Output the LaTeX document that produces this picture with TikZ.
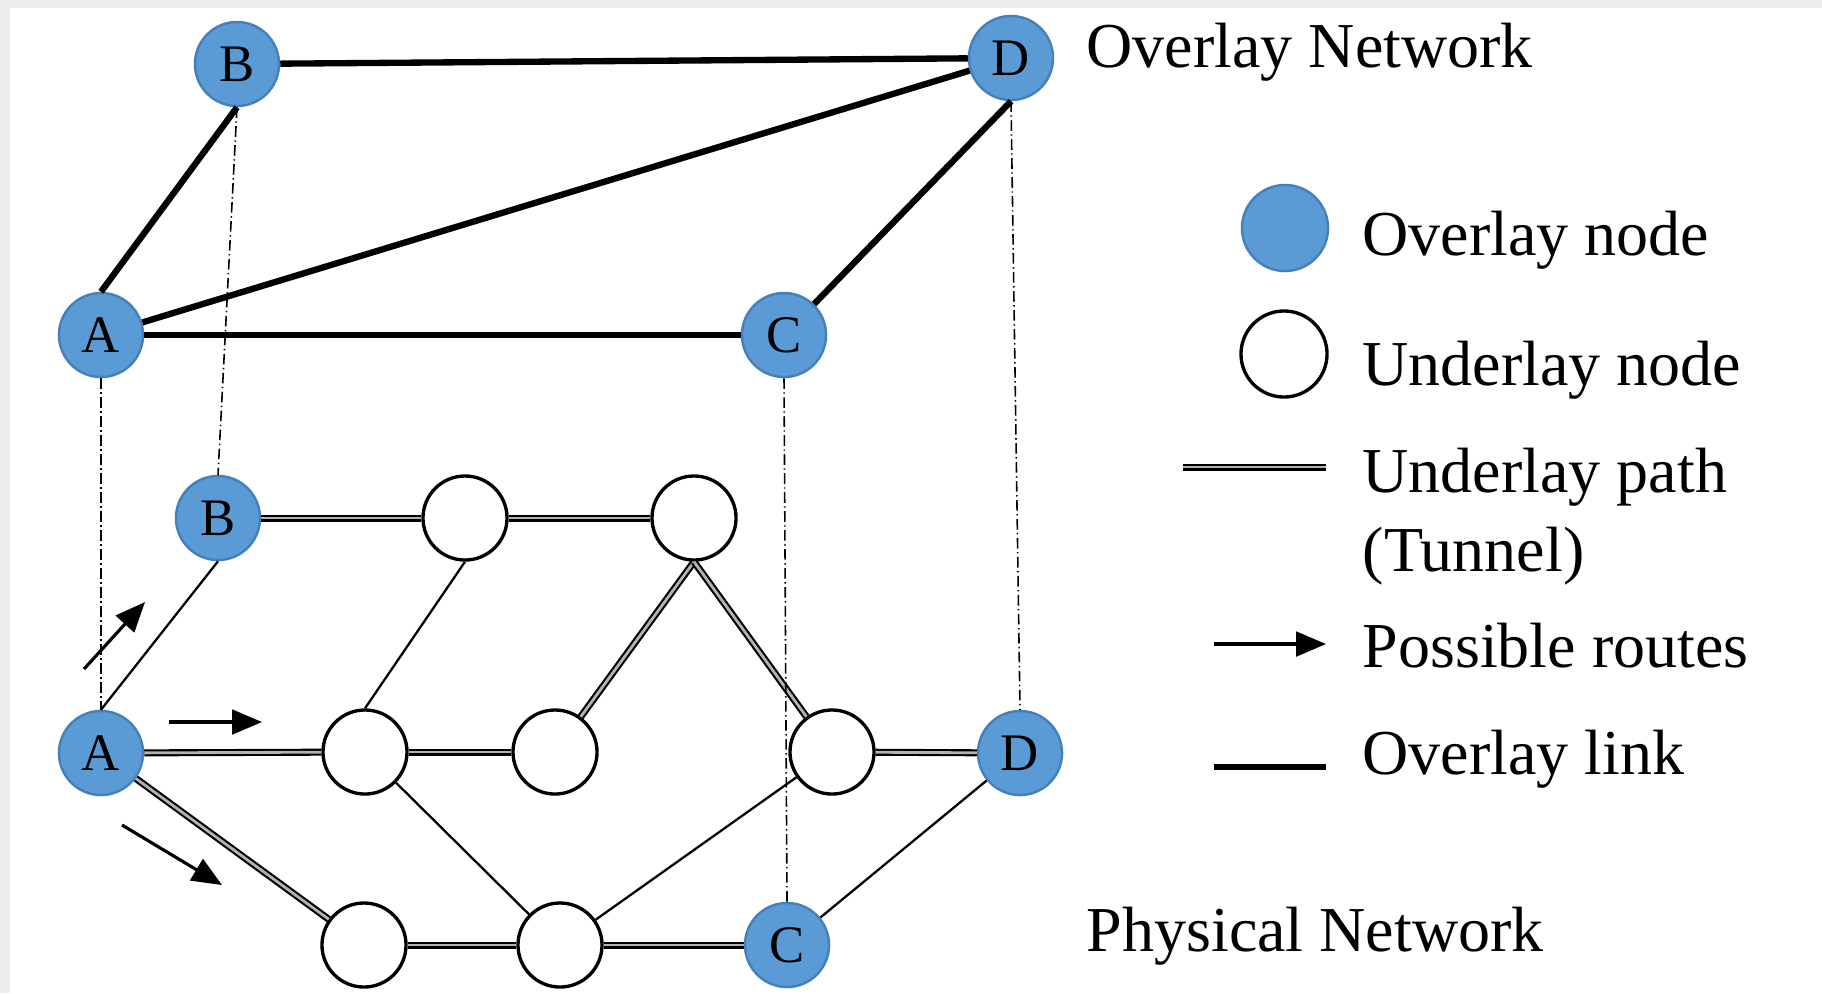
\documentclass[tikz,border=0pt]{standalone}
\usepackage{fontspec}
\setmainfont{Liberation Serif}
\usepackage{xcolor}
\usepackage{tikz}
\usetikzlibrary{positioning}
\usetikzlibrary{arrows.meta}

\definecolor{ovblue}{RGB}{91,155,213}
\definecolor{ovedge}{RGB}{70,128,188}

\begin{document}
\begin{tikzpicture}[
    x=0.01cm, y=-0.01cm,
    onode/.style={circle, fill=ovblue, draw=ovedge, line width=0.7pt, minimum size=0.84cm, inner sep=0pt, font=\fontsize{15}{15}\selectfont},
    unode/.style={circle, fill=white, draw=black, line width=0.95pt, minimum size=0.84cm, inner sep=0pt},
    olink/.style={line width=1.8pt},
    upath/.style={draw=black, line width=0.6pt, double=gray!60, double distance=0.8pt},
    plink/.style={line width=0.65pt},
    proj/.style={densely dash dot, line width=0.45pt},
    route/.style={line width=0.9pt, -{Triangle[length=8.5pt, width=7pt]}},
    txt/.style={inner sep=0pt, anchor=base west, font=\fontsize{18.2}{22.4}\selectfont}
]
\useasboundingbox (0,0) rectangle (1822,993);
\fill[black!7] (0,0) rectangle (1822,993);
\fill[white] (10,8) rectangle (1822,993);

% overlay network
\node[onode] (Ao) at (101,335) {A};
\node[onode] (Bo) at (237,64) {B};
\node[onode] (Co) at (784,335) {C};
\node[onode] (Do) at (1011,58) {D};

\draw[olink] (Bo) -- (Do);
\draw[olink] (Ao.north) -- (Bo.south);
\draw[olink] (Ao) -- (Do);
\draw[olink] (Ao) -- (Co);
\draw[olink] (Co) -- (Do.south);

% physical network
\node[onode] (Ap) at (101,753) {A};
\node[onode] (Bp) at (218,518) {B};
\node[onode] (Cp) at (787,945) {C};
\node[onode] (Dp) at (1020,753) {D};
\node[unode] (u1) at (465,518) {};
\node[unode] (u2) at (694,518) {};
\node[unode] (u3) at (365,752) {};
\node[unode] (u4) at (555,752) {};
\node[unode] (u5) at (832,752) {};
\node[unode] (u6) at (364,945) {};
\node[unode] (u7) at (560,945) {};

\draw[upath] (Bp) -- (u1);
\draw[upath] (u1) -- (u2);
\draw[upath] (u2.south) -- (u4);
\draw[upath] (u2.south) -- (u5);
\draw[upath] (Ap) -- (u3);
\draw[upath] (u3) -- (u4);
\draw[upath] (u5) -- (Dp);
\draw[upath] (Ap) -- (u6);
\draw[upath] (u6) -- (u7);
\draw[upath] (u7) -- (Cp);
\draw[plink] (Ap.north) -- (Bp.south);
\draw[plink] (u1.south) -- (u3.north);
\draw[plink] (u3) -- (u7);
\draw[plink] (u7) -- (u5);
\draw[plink] (Cp) -- (Dp);

% projections
\draw[proj] (Ao.south) -- (Ap.north);
\draw[proj] (Bo.south) -- (Bp.north);
\draw[proj] (Co.south) -- (Cp.north);
\draw[proj] (Do.south) -- (Dp.north);

% possible routes
\coordinate (r1s) at (84,669);
\coordinate (r1e) at (145,602);
\coordinate (r2s) at (169,722);
\coordinate (r2e) at (262,722);
\coordinate (r3s) at (122,825);
\coordinate (r3e) at (222,885);
\draw[route] (r1s) -- (r1e);
\draw[route] (r2s) -- (r2e);
\draw[route] (r3s) -- (r3e);

\node[txt] (ovnet) at (1086,67) {Overlay Network};
\node[txt] (phnet) at (1086,951) {Physical Network};

% legend
\node[onode, minimum size=0.86cm] (lgon) at (1285,228) {};
\node[unode, minimum size=0.86cm] (lgun) at (1284,354) {};
\coordinate (lgp1) at (1183,467);
\coordinate (lgp2) at (1326,467);
\coordinate (lgr1) at (1214,644);
\coordinate (lgr2) at (1326,644);
\coordinate (lgl1) at (1214,767);
\coordinate (lgl2) at (1326,767);
\draw[upath] (lgp1) -- (lgp2);
\draw[route] (lgr1) -- (lgr2);
\draw[olink] (lgl1) -- (lgl2);

\node[txt] (lgton) at (1362,255) {Overlay node};
\node[txt] (lgtun) at (1362,385) {Underlay node};
\node[txt] (lgtup) at (1362,492) {Underlay path};
\node[txt] (lgttu) at (1362,571) {(Tunnel)};
\node[txt] (lgtpr) at (1362,667) {Possible routes};
\node[txt] (lgtol) at (1362,774) {Overlay link};
\end{tikzpicture}
\end{document}
